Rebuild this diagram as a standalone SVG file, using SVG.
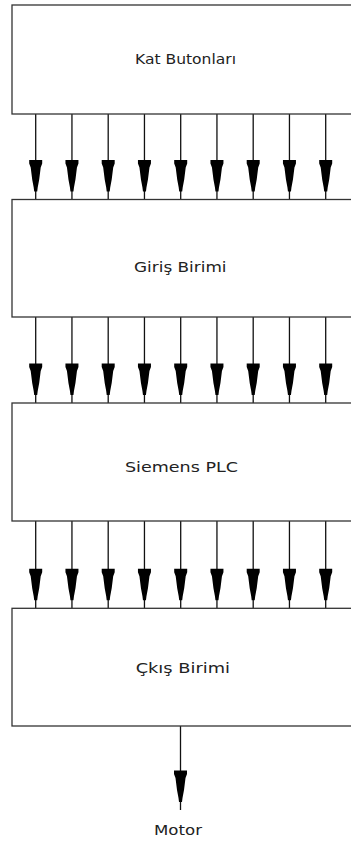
<svg xmlns="http://www.w3.org/2000/svg" width="351" height="842" viewBox="0 0 351 842">
<style>
.box{fill:#ffffff;stroke:#333333;stroke-width:1.3}
.lbl{font-family:"DejaVu Sans",Verdana,sans-serif;font-size:13.5px;fill:#222222;text-anchor:middle}
.wire{stroke:#111111;stroke-width:1.3;fill:none;marker-end:url(#ah)}
</style>
<defs>
<marker id="ah" markerUnits="userSpaceOnUse" viewBox="-40 -8 40 16" markerWidth="40" markerHeight="16" refX="0" refY="0" orient="auto" overflow="visible">
<path d="M-39.5,-6.5 L-39.5,6.5 L-36,6.5 L-32,5 L-20,3.5 L-12,2 L-8,1.5 L-8,-1.5 L-12,-2 L-20,-3.5 L-32,-5 L-36,-6.5 Z" fill="#000000"/>
</marker>
</defs>
<rect width="351" height="842" fill="#ffffff"/>
<g id="connectors">
<line class="wire" x1="35.7" y1="114" x2="35.7" y2="199.5"/>
<line class="wire" x1="71.95" y1="114" x2="71.95" y2="199.5"/>
<line class="wire" x1="108.2" y1="114" x2="108.2" y2="199.5"/>
<line class="wire" x1="144.45" y1="114" x2="144.45" y2="199.5"/>
<line class="wire" x1="180.7" y1="114" x2="180.7" y2="199.5"/>
<line class="wire" x1="216.95" y1="114" x2="216.95" y2="199.5"/>
<line class="wire" x1="253.2" y1="114" x2="253.2" y2="199.5"/>
<line class="wire" x1="289.45" y1="114" x2="289.45" y2="199.5"/>
<line class="wire" x1="325.7" y1="114" x2="325.7" y2="199.5"/>
<line class="wire" x1="35.7" y1="317" x2="35.7" y2="403"/>
<line class="wire" x1="71.95" y1="317" x2="71.95" y2="403"/>
<line class="wire" x1="108.2" y1="317" x2="108.2" y2="403"/>
<line class="wire" x1="144.45" y1="317" x2="144.45" y2="403"/>
<line class="wire" x1="180.7" y1="317" x2="180.7" y2="403"/>
<line class="wire" x1="216.95" y1="317" x2="216.95" y2="403"/>
<line class="wire" x1="253.2" y1="317" x2="253.2" y2="403"/>
<line class="wire" x1="289.45" y1="317" x2="289.45" y2="403"/>
<line class="wire" x1="325.7" y1="317" x2="325.7" y2="403"/>
<line class="wire" x1="35.7" y1="521" x2="35.7" y2="608.3"/>
<line class="wire" x1="71.95" y1="521" x2="71.95" y2="608.3"/>
<line class="wire" x1="108.2" y1="521" x2="108.2" y2="608.3"/>
<line class="wire" x1="144.45" y1="521" x2="144.45" y2="608.3"/>
<line class="wire" x1="180.7" y1="521" x2="180.7" y2="608.3"/>
<line class="wire" x1="216.95" y1="521" x2="216.95" y2="608.3"/>
<line class="wire" x1="253.2" y1="521" x2="253.2" y2="608.3"/>
<line class="wire" x1="289.45" y1="521" x2="289.45" y2="608.3"/>
<line class="wire" x1="325.7" y1="521" x2="325.7" y2="608.3"/>
<line class="wire" x1="180.5" y1="726" x2="180.5" y2="810"/>
</g>
<g id="kat-butonlari">
<rect class="box" x="12" y="5" width="350" height="109"/>
<text class="lbl" x="185.5" y="63.5" textLength="101" lengthAdjust="spacingAndGlyphs">Kat Butonları</text>
</g>
<g id="giris-birimi">
<rect class="box" x="12" y="199.5" width="350" height="117.5"/>
<text class="lbl" x="180.3" y="272" textLength="92.5" lengthAdjust="spacingAndGlyphs">Giriş Birimi</text>
</g>
<g id="siemens-plc">
<rect class="box" x="12" y="403" width="350" height="118"/>
<text class="lbl" x="181.5" y="472" textLength="113" lengthAdjust="spacingAndGlyphs">Siemens PLC</text>
</g>
<g id="cikis-birimi">
<rect class="box" x="12" y="608.3" width="350" height="117.7"/>
<text class="lbl" x="182.8" y="673" textLength="94.3" lengthAdjust="spacingAndGlyphs">Çkış Birimi</text>
</g>
<g id="motor">
<text class="lbl" x="178" y="835" textLength="48" lengthAdjust="spacingAndGlyphs">Motor</text>
</g>
</svg>
